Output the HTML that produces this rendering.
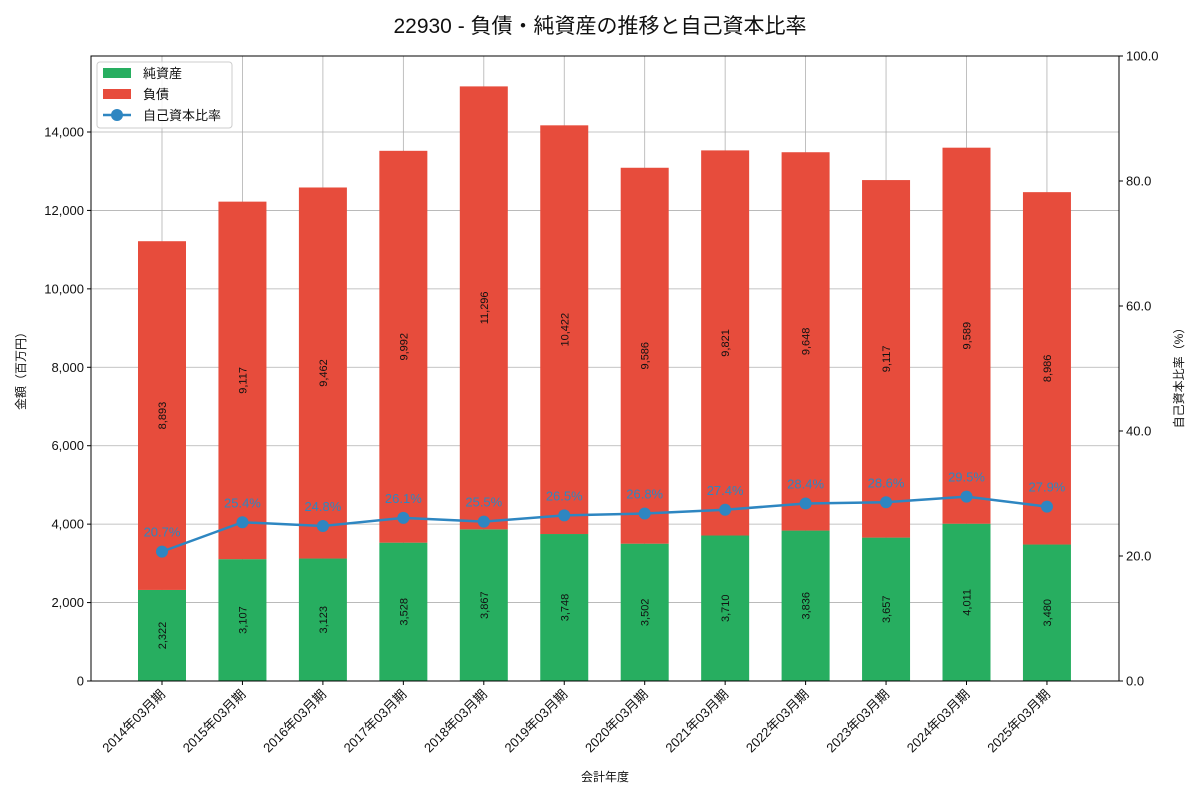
<!DOCTYPE html>
<html><head><meta charset="utf-8"><style>
body{margin:0;background:#fff;font-family:"Liberation Sans","Noto Sans CJK JP",sans-serif;}
</style></head><body>
<svg id="c" width="1200" height="800" xmlns="http://www.w3.org/2000/svg" font-family="Liberation Sans, Noto Sans CJK JP, sans-serif"></svg>
<script>
const categories=["2014年03月期","2015年03月期","2016年03月期","2017年03月期","2018年03月期","2019年03月期","2020年03月期","2021年03月期","2022年03月期","2023年03月期","2024年03月期","2025年03月期"];
const equity=[2322,3107,3123,3528,3867,3748,3502,3710,3836,3657,4011,3480];
const liabilities=[8893,9117,9462,9992,11296,10422,9586,9821,9648,9117,9589,8986];
const ratio=[20.7,25.4,24.8,26.1,25.5,26.5,26.8,27.4,28.4,28.6,29.5,27.9];
const leftTicks=[0,2000,4000,6000,8000,10000,12000,14000];
const rightTicks=[0,20,40,60,80,100];

const svg=document.getElementById('c');
const NS='http://www.w3.org/2000/svg';
function el(t,a,p){const e=document.createElementNS(NS,t);for(const k in a)e.setAttribute(k,a[k]);(p||svg).appendChild(e);return e;}
const L=91,R=1119,T=56,B=681,lmax=15938;
const y=v=>B-v/lmax*(B-T);
const yr=v=>B-v/100*(B-T);
const step=(R-L)/categories.length*0.9985;
const x=i=>162+i*80.45;
const bw=48;

let t=el('text',{x:600,y:33,'text-anchor':'middle','font-size':21,fill:'#111'});

t.textContent='22930 - 負債・純資産の推移と自己資本比率';

const grid=el('g',{});
categories.forEach((c,i)=>el('line',{x1:x(i),x2:x(i),y1:T,y2:B,stroke:'#b0b0b0','stroke-width':0.8},grid));
leftTicks.forEach(v=>el('line',{x1:L,x2:R,y1:y(v),y2:y(v),stroke:'#b0b0b0','stroke-width':0.8},grid));

categories.forEach((c,i)=>{
  const g=el('g',{});
  const e0=y(0),e1=y(equity[i]),l1=y(equity[i]+liabilities[i]);
  el('rect',{x:x(i)-bw/2,y:e1,width:bw,height:e0-e1,fill:'#27ae60'},g);
  el('rect',{x:x(i)-bw/2,y:l1,width:bw,height:e1-l1,fill:'#e74c3c'},g);
  [[equity[i],(e0+e1)/2],[liabilities[i],(e1+l1)/2]].forEach(([v,cy])=>{
    const tt=el('text',{x:0,y:0,transform:`translate(${x(i)+4},${cy}) rotate(-90)`,'text-anchor':'middle','font-size':11,fill:'#111'},g);
    tt.textContent=v.toLocaleString('en-US');
  });
});

// line
const lg=el('g',{});
el('polyline',{points:ratio.map((v,i)=>x(i)+','+yr(v)).join(' '),fill:'none',stroke:'#2e86c1','stroke-width':2.5},lg);
ratio.forEach((v,i)=>{
  el('circle',{cx:x(i),cy:yr(v),r:6,fill:'#2e86c1'},lg);
  const tt=el('text',{x:x(i),y:yr(v)-15,'text-anchor':'middle','font-size':13,fill:'#2e86c1'},lg);
  tt.textContent=v.toFixed(1)+'%';
});

// axes frame
el('rect',{x:L,y:T,width:R-L,height:B-T,fill:'none',stroke:'#000','stroke-width':1});
const la=el('g',{});
leftTicks.forEach(v=>{el('line',{x1:L-4,x2:L,y1:y(v),y2:y(v),stroke:'#000'},la);
  const tt=el('text',{x:L-7,y:y(v)+4.5,'text-anchor':'end','font-size':13,fill:'#111'},la);tt.textContent=v.toLocaleString('en-US');});
const ra=el('g',{});
rightTicks.forEach(v=>{el('line',{x1:R,x2:R+4,y1:yr(v),y2:yr(v),stroke:'#000'},ra);
  const tt=el('text',{x:R+7,y:yr(v)+4.5,'font-size':13,fill:'#111'},ra);tt.textContent=v.toFixed(1);});
const xa=el('g',{});
categories.forEach((c,i)=>{el('line',{x1:x(i),x2:x(i),y1:B,y2:B+4,stroke:'#000'},xa);
  const tt=el('text',{x:0,y:0,transform:`translate(${x(i)+4},${B+14}) rotate(-45)`,'text-anchor':'end','font-size':13,fill:'#111'},xa);tt.textContent=c;});
t=el('text',{x:605,y:781,'text-anchor':'middle','font-size':12,fill:'#111'});t.textContent='会計年度';
t=el('text',{transform:'translate(25,368) rotate(-90)','text-anchor':'middle','font-size':12,fill:'#111'});t.textContent='金額（百万円）';
t=el('text',{transform:'translate(1183,375) rotate(-90)','text-anchor':'middle','font-size':12,fill:'#111'});t.textContent='自己資本比率（%）';

// legend
const lgd=el('g',{});
el('rect',{x:97,y:62,width:135,height:66,fill:'#fff','fill-opacity':0.85,stroke:'#ccc',rx:3},lgd);
el('rect',{x:103,y:68,width:28,height:10,fill:'#27ae60'},lgd);
el('rect',{x:103,y:89,width:28,height:10,fill:'#e74c3c'},lgd);
el('line',{x1:103,x2:131,y1:115,y2:115,stroke:'#2e86c1','stroke-width':2.5},lgd);
el('circle',{cx:117,cy:115,r:6,fill:'#2e86c1'},lgd);
[['純資産',78],['負債',99],['自己資本比率',120]].forEach(([s,yy])=>{const tt=el('text',{x:143,y:yy,'font-size':13,fill:'#111'},lgd);tt.textContent=s;});
</script>
</body></html>
